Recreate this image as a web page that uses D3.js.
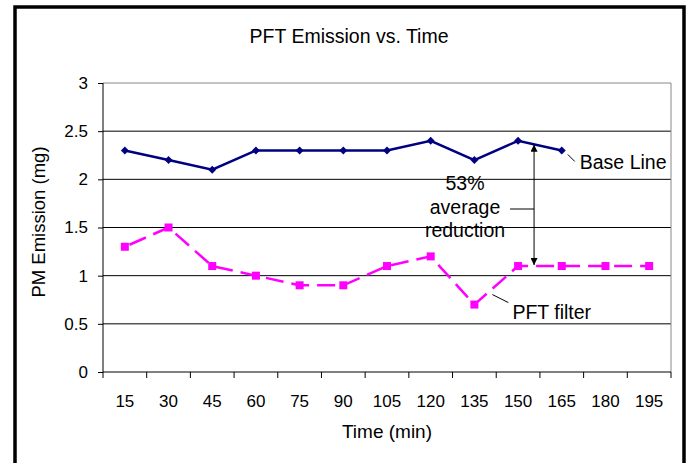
<!DOCTYPE html>
<html>
<head>
<meta charset="utf-8">
<script src="https://cdn.jsdelivr.net/npm/d3@7"></script>
<style>
  body { margin: 0; background: #fff; }
  text { font-family: "Liberation Sans", Arial, sans-serif; fill: #000; }
</style>
</head>
<body>
<div id="chart"></div>
<script>
// categories and the two series
var times = [15, 30, 45, 60, 75, 90, 105, 120, 135, 150, 165, 180, 195];
var baseLine = [2.3, 2.2, 2.1, 2.3, 2.3, 2.3, 2.3, 2.4, 2.2, 2.4, 2.3];
var pftFilter = [1.3, 1.5, 1.1, 1.0, 0.9, 0.9, 1.1, 1.2, 0.7, 1.1, 1.1, 1.1, 1.1];
var yTicks = [0, 0.5, 1, 1.5, 2, 2.5, 3];

var width = 688, height = 463;
var plot = {left: 103, right: 671, top: 83, bottom: 372};

var svg = d3.select('#chart').append('svg')
    .attr('width', width)
    .attr('height', height);

// outer frame (bottom edge runs past the window)
svg.append('rect')
    .attr('x', 15).attr('y', 7)
    .attr('width', 669).attr('height', 480)
    .attr('fill', 'none')
    .attr('stroke', '#000')
    .attr('stroke-width', 3.5);

var x = d3.scaleBand()
    .domain(times)
    .range([plot.left, plot.right]);
var y = d3.scaleLinear()
    .domain([0, 3])
    .range([plot.bottom, plot.top]);
var cx = function(t) { return x(t) + x.bandwidth() / 2; };

// horizontal gridlines
svg.append('g').selectAll('line')
    .data(yTicks.filter(function(d) { return d > 0; }))
    .enter().append('line')
    .attr('x1', plot.left).attr('x2', plot.right)
    .attr('y1', function(d) { return y(d); })
    .attr('y2', function(d) { return y(d); })
    .attr('stroke', function(d) { return d === 3 ? '#888' : '#000'; })
    .attr('stroke-width', 1);

// right border of the plot area
svg.append('line')
    .attr('x1', plot.right).attr('x2', plot.right)
    .attr('y1', plot.top).attr('y2', plot.bottom)
    .attr('stroke', '#888');

// y axis
var yAxis = svg.append('g')
    .attr('transform', 'translate(' + plot.left + ',0)')
    .call(d3.axisLeft(y).tickValues(yTicks).tickSize(5).tickPadding(10)
        .tickFormat(function(d) { return d; }));
yAxis.select('.domain').attr('stroke', '#000').attr('d', 'M0,' + plot.top + 'V' + plot.bottom);
yAxis.selectAll('text').style('font-size', '17px').style('font-family', '"Liberation Sans", Arial, sans-serif');

// x axis with ticks between categories
var xAxis = svg.append('g')
    .attr('transform', 'translate(0,' + plot.bottom + ')');
xAxis.append('line')
    .attr('x1', plot.left).attr('x2', plot.right)
    .attr('stroke', '#000');
xAxis.selectAll('line.tick')
    .data(times.concat(['end']))
    .enter().append('line')
    .attr('class', 'tick')
    .attr('x1', function(d, i) { return i < times.length ? x(d) : plot.right; })
    .attr('x2', function(d, i) { return i < times.length ? x(d) : plot.right; })
    .attr('y1', 0).attr('y2', 6)
    .attr('stroke', '#000');
xAxis.selectAll('text')
    .data(times)
    .enter().append('text')
    .attr('x', function(d) { return cx(d); })
    .attr('y', 35)
    .attr('text-anchor', 'middle')
    .style('font-size', '17px')
    .text(function(d) { return d; });

// titles
svg.append('text')
    .attr('x', 349).attr('y', 43)
    .attr('text-anchor', 'middle')
    .style('font-size', '19.5px')
    .text('PFT Emission vs. Time');
svg.append('text')
    .attr('x', (plot.left + plot.right) / 2).attr('y', 438)
    .attr('text-anchor', 'middle')
    .style('font-size', '19px')
    .text('Time (min)');
svg.append('text')
    .attr('transform', 'translate(45,222) rotate(-90)')
    .attr('text-anchor', 'middle')
    .style('font-size', '18.5px')
    .text('PM Emission (mg)');

// series lines
var line = d3.line()
    .x(function(d, i) { return cx(times[i]); })
    .y(function(d) { return y(d); });

svg.append('path')
    .datum(pftFilter)
    .attr('d', line)
    .attr('fill', 'none')
    .attr('stroke', '#ff00ff')
    .attr('stroke-width', 2.5)
    .attr('stroke-dasharray', '18,8')
    .attr('stroke-dashoffset', -5);

svg.append('g').selectAll('rect')
    .data(pftFilter)
    .enter().append('rect')
    .attr('x', function(d, i) { return cx(times[i]) - 4; })
    .attr('y', function(d) { return y(d) - 4; })
    .attr('width', 8).attr('height', 8)
    .attr('fill', '#ff00ff');

svg.append('path')
    .datum(baseLine)
    .attr('d', line)
    .attr('fill', 'none')
    .attr('stroke', '#000080')
    .attr('stroke-width', 2.5);

svg.append('g').selectAll('path')
    .data(baseLine)
    .enter().append('path')
    .attr('d', d3.symbol().type(d3.symbolDiamond2).size(40))
    .attr('transform', function(d, i) { return 'translate(' + cx(times[i]) + ',' + y(d) + ')'; })
    .attr('fill', '#000080');

// annotations
var lastBase = times[baseLine.length - 1];
svg.append('line')
    .attr('x1', cx(lastBase) + 6).attr('y1', y(2.3) + 4)
    .attr('x2', cx(lastBase) + 13).attr('y2', y(2.3) + 11)
    .attr('stroke', '#000');
svg.append('text')
    .attr('x', cx(lastBase) + 18).attr('y', y(2.3) + 19)
    .style('font-size', '19.5px')
    .text('Base Line');

svg.append('line')
    .attr('x1', cx(135) + 18).attr('y1', y(0.7) - 10)
    .attr('x2', cx(135) + 34).attr('y2', y(0.7) - 2)
    .attr('stroke', '#000');
svg.append('text')
    .attr('x', cx(135) + 38).attr('y', y(0.7) + 14)
    .style('font-size', '19.5px')
    .text('PFT filter');

svg.append('defs').append('marker')
    .attr('id', 'head')
    .attr('viewBox', '0 0 10 10')
    .attr('refX', 10).attr('refY', 5)
    .attr('markerWidth', 7).attr('markerHeight', 7)
    .attr('markerUnits', 'userSpaceOnUse')
    .attr('orient', 'auto-start-reverse')
    .append('path')
    .attr('d', 'M0,0L10,5L0,10Z')
    .attr('fill', '#000');

var arrowX = cx(150) + 16;
svg.append('line')
    .attr('x1', arrowX).attr('y1', y(2.36))
    .attr('x2', arrowX).attr('y2', y(1.11))
    .attr('stroke', '#000')
    .attr('stroke-width', 1)
    .attr('marker-start', 'url(#head)')
    .attr('marker-end', 'url(#head)');

var noteLines = ['53%', 'average', 'reduction'];
svg.append('line')
    .attr('x1', arrowX - 24).attr('x2', arrowX)
    .attr('y1', 209).attr('y2', 209)
    .attr('stroke', '#000');
svg.append('g').selectAll('text')
    .data(noteLines)
    .enter().append('text')
    .attr('x', 465)
    .attr('y', function(d, i) { return 190 + i * 23.5; })
    .attr('text-anchor', 'middle')
    .style('font-size', '19.5px')
    .text(function(d) { return d; });
</script>
</body>
</html>
